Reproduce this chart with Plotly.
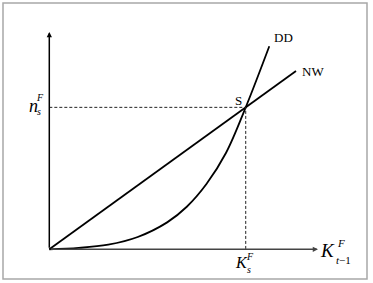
import plotly.graph_objects as go

# Data (S normalised to (1, 1))
nw_x = [0.0, 1.0, 1.256]
nw_y = [0.0, 1.0, 1.256]
dd_x = [0.0, 0.15, 0.3, 0.45, 0.6, 0.7, 0.8, 0.9, 1.0, 1.12]
dd_y = [0.0, 0.01, 0.033, 0.087, 0.19, 0.30, 0.46, 0.68, 1.0, 1.43]
s_x, s_y = 1.0, 1.0
x_axis_end = 1.368
y_axis_end = 1.53

W, H = 373, 283
X0, X1 = -0.251, 1.648
Y0, Y1 = -0.237, 1.756

def px(xp, yp):
    return (X0 + xp / W * (X1 - X0), Y1 - yp / H * (Y1 - Y0))

fig = go.Figure()
fig.add_trace(go.Scatter(x=nw_x, y=nw_y, mode="lines",
                         line=dict(color="black", width=1.8), hoverinfo="skip"))
fig.add_trace(go.Scatter(x=dd_x, y=dd_y, mode="lines",
                         line=dict(color="black", width=1.8, shape="spline", smoothing=1.0),
                         hoverinfo="skip"))
# dashed guide lines
fig.add_trace(go.Scatter(x=[0, s_x, s_x], y=[s_y, s_y, 0], mode="lines",
                         line=dict(color="#222", width=1, dash="3px,2px"), hoverinfo="skip"))

shapes = [
    dict(type="rect", xref="paper", yref="paper",
         x0=3 / W, x1=367 / W, y0=1 - 279 / H, y1=1 - 3 / H,
         line=dict(color="#a8a8a8", width=1.5)),
]
annotations = []
# axes with arrows
annotations.append(dict(x=x_axis_end, y=0, ax=0, ay=0, xref="x", yref="y", axref="x", ayref="y",
                        showarrow=True, arrowhead=2, arrowsize=0.7, arrowwidth=1.5,
                        arrowcolor="#444", text=""))
annotations.append(dict(x=0, y=y_axis_end, ax=0, ay=0, xref="x", yref="y", axref="x", ayref="y",
                        showarrow=True, arrowhead=2, arrowsize=0.7, arrowwidth=1.5,
                        arrowcolor="black", text=""))

serif = "Liberation Serif"
def label(xp, yp, text, size, italic=False):
    x, y = px(xp, yp)
    t = f"<i>{text}</i>" if italic else text
    annotations.append(dict(x=x, y=y, xref="x", yref="y", text=t, showarrow=False,
                            font=dict(family=serif, size=size, color="black"),
                            xanchor="center", yanchor="middle"))

label(283, 37, "DD", 13)
label(313, 71, "NW", 13)
label(238, 100, "S", 13)
# n_s^F
label(33, 106, "n", 18, True)
label(40, 97, "F", 10, True)
label(39, 111, "s", 10, True)
# K_s^F
label(241, 262, "K", 16, True)
label(250, 256, "F", 10, True)
label(249, 269, "s", 10, True)
# K_{t-1}^F
label(327, 250, "K", 19, True)
label(341, 243, "F", 11, True)
label(343, 260, "<i>t</i>−1", 11)

fig.update_layout(
    width=W, height=H, margin=dict(l=0, r=0, t=0, b=0),
    paper_bgcolor="white", plot_bgcolor="white", showlegend=False,
    xaxis=dict(range=[X0, X1], visible=False, fixedrange=True),
    yaxis=dict(range=[Y0, Y1], visible=False, fixedrange=True),
    shapes=shapes, annotations=annotations,
)
fig.write_html("out.html", config={"displayModeBar": False})
